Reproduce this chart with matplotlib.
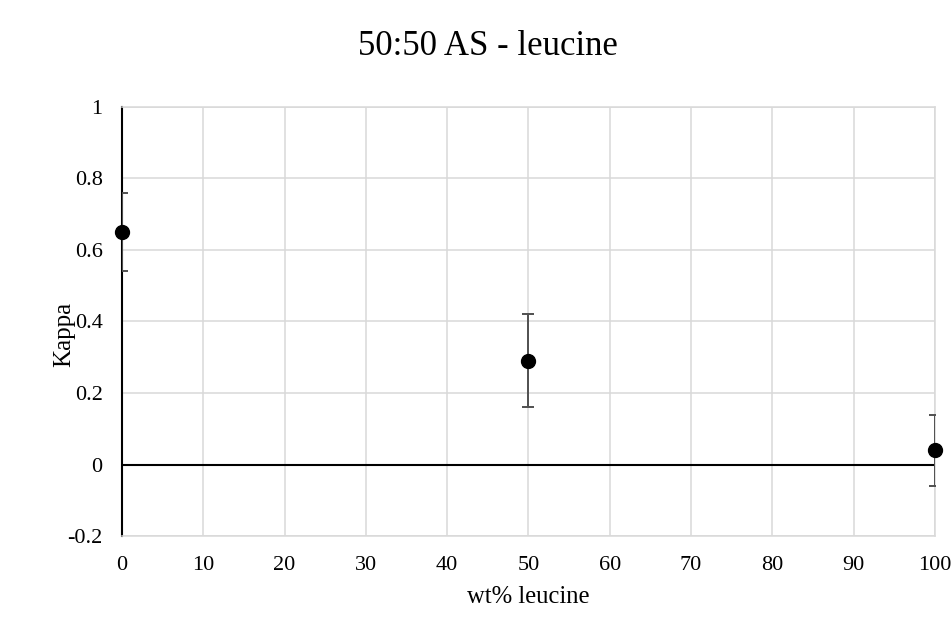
import matplotlib
matplotlib.use("Agg")
import matplotlib.pyplot as plt

# wt% leucine vs Kappa, with error bars
wt_leucine = [0, 50, 100]
kappa = [0.65, 0.29, 0.04]
kappa_err = [0.11, 0.13, 0.10]

x_ticks = [0, 10, 20, 30, 40, 50, 60, 70, 80, 90, 100]
y_ticks = [-0.2, 0, 0.2, 0.4, 0.6, 0.8, 1]
y_ticklabels = ["-0.2", "0", "0.2", "0.4", "0.6", "0.8", "1"]

plt.rcParams["font.family"] = ["Liberation Serif", "DejaVu Serif"]

grid_col = "#d9d9d9"

fig = plt.figure(figsize=(9.53, 6.36), dpi=100)
ax = fig.add_axes([0.128, 0.157, 0.853, 0.675])

ax.set_xlim(0, 100)
ax.set_ylim(-0.2, 1)
ax.set_xticks(x_ticks)
ax.set_yticks(y_ticks)
ax.set_yticklabels(y_ticklabels)
ax.tick_params(length=0, labelsize=16)
ax.tick_params(axis="x", pad=14)
ax.tick_params(axis="y", pad=14)

ax.grid(True, color=grid_col, linewidth=1.1)
ax.set_axisbelow(True)
for side in ["top", "right", "bottom"]:
    ax.spines[side].set_color(grid_col)
    ax.spines[side].set_linewidth(1.1)
ax.spines["left"].set_color("black")
ax.spines["left"].set_linewidth(1.5)

# horizontal axis line crossing at zero
ax.axhline(0, color="black", linewidth=1.5, zorder=2)

ax.errorbar(wt_leucine, kappa, yerr=kappa_err, fmt="none", ecolor="#505050",
            elinewidth=1.4, capsize=4.3, capthick=1.4, zorder=3)
ax.plot(wt_leucine, kappa, "o", color="black", markersize=10, clip_on=False, zorder=4)

# title sits centred on the whole chart area rather than the plot box
fig.text(0.512, 0.927, "50:50 AS - leucine", ha="center", va="center", fontsize=25)
ax.set_xlabel("wt% leucine", fontsize=17.7, labelpad=8)
ax.text(-0.0714, 0.469, "Kappa", transform=ax.transAxes, rotation=90,
        ha="center", va="center", fontsize=18)

fig.savefig("out.png", dpi=100)
